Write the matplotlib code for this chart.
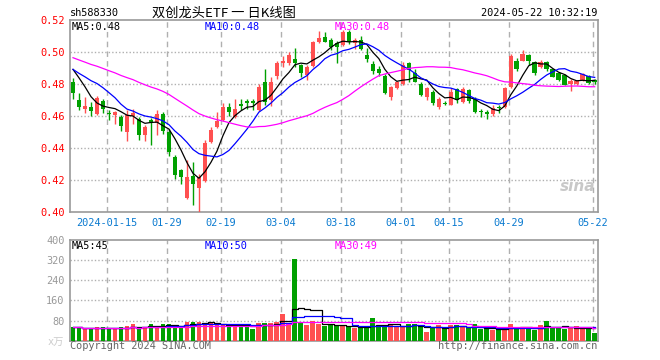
import numpy as np
import pandas as pd
import matplotlib
matplotlib.use("Agg")
import matplotlib.pyplot as plt

plt.rcParams['font.family'] = ['DejaVu Sans Mono', 'Noto Sans CJK SC']

# closes before the window, only used to warm up the moving averages
warmup_close = [0.508, 0.507, 0.506, 0.505, 0.506, 0.504, 0.503, 0.502, 0.501, 0.500,
                0.499, 0.498, 0.499, 0.497, 0.496, 0.495, 0.496, 0.494, 0.493, 0.492,
                0.490, 0.488, 0.487, 0.489, 0.491, 0.492, 0.494, 0.494, 0.491]

opens = [0.4810, 0.4697, 0.4643, 0.4652, 0.4610, 0.4691, 0.4616, 0.4607, 0.4593, 0.4498,
         0.4597, 0.4582, 0.4478, 0.4572, 0.4557, 0.4610, 0.4498, 0.4341, 0.4258, 0.4086,
         0.4220, 0.4145, 0.4190, 0.4436, 0.4530, 0.4575, 0.4655, 0.4595, 0.4675, 0.4693,
         0.4693, 0.4635, 0.4813, 0.4697, 0.4850, 0.4932, 0.4928, 0.4953, 0.4917, 0.4855,
         0.4911, 0.5064, 0.5095, 0.5074, 0.5057, 0.5043, 0.5127, 0.5057, 0.5074, 0.4980,
         0.4924, 0.4894, 0.4850, 0.4718, 0.4771, 0.4802, 0.4930, 0.4870, 0.4800, 0.4720,
         0.4750, 0.4655, 0.4680, 0.4670, 0.4765, 0.4687, 0.4764, 0.4708, 0.4630, 0.4624,
         0.4608, 0.4652, 0.4655, 0.4780, 0.4944, 0.4944, 0.4980, 0.4938, 0.4907, 0.4938,
         0.4890, 0.4870, 0.4855, 0.4800, 0.4800, 0.4823, 0.4848, 0.4823]
highs = [0.4835, 0.4740, 0.4720, 0.4687, 0.4723, 0.4705, 0.4635, 0.4630, 0.4605, 0.4635,
         0.4640, 0.4595, 0.4545, 0.4585, 0.4635, 0.4625, 0.4520, 0.4352, 0.4265, 0.4325,
         0.4310, 0.4235, 0.4448, 0.4530, 0.4624, 0.4680, 0.4680, 0.4708, 0.4705, 0.4705,
         0.4705, 0.4802, 0.4890, 0.4840, 0.4945, 0.4974, 0.4997, 0.5022, 0.4925, 0.4915,
         0.5070, 0.5133, 0.5127, 0.5090, 0.5070, 0.5140, 0.5135, 0.5090, 0.5100, 0.5022,
         0.4945, 0.4910, 0.4860, 0.4785, 0.4820, 0.4935, 0.4935, 0.4895, 0.4810, 0.4780,
         0.4760, 0.4720, 0.4695, 0.4771, 0.4775, 0.4780, 0.4770, 0.4715, 0.4640, 0.4635,
         0.4670, 0.4670, 0.4780, 0.4990, 0.4960, 0.5012, 0.4990, 0.4945, 0.4950, 0.4945,
         0.4895, 0.4875, 0.4860, 0.4830, 0.4827, 0.4870, 0.4855, 0.4830]
lows = [0.4708, 0.4635, 0.4618, 0.4597, 0.4603, 0.4618, 0.4575, 0.4549, 0.4505, 0.4442,
        0.4547, 0.4450, 0.4442, 0.4415, 0.4480, 0.4488, 0.4348, 0.4206, 0.4174, 0.4080,
        0.4040, 0.4000, 0.4185, 0.4430, 0.4525, 0.4570, 0.4600, 0.4585, 0.4635, 0.4640,
        0.4635, 0.4630, 0.4665, 0.4660, 0.4830, 0.4907, 0.4920, 0.4907, 0.4844, 0.4823,
        0.4905, 0.5055, 0.5060, 0.5010, 0.4928, 0.5035, 0.5050, 0.5020, 0.5010, 0.4938,
        0.4860, 0.4850, 0.4735, 0.4700, 0.4765, 0.4795, 0.4813, 0.4810, 0.4725, 0.4700,
        0.4665, 0.4640, 0.4665, 0.4665, 0.4680, 0.4680, 0.4680, 0.4620, 0.4593, 0.4578,
        0.4600, 0.4620, 0.4650, 0.4775, 0.4880, 0.4940, 0.4920, 0.4855, 0.4900, 0.4880,
        0.4840, 0.4820, 0.4790, 0.4756, 0.4790, 0.4815, 0.4800, 0.4800]
closes = [0.4743, 0.4655, 0.4660, 0.4630, 0.4712, 0.4645, 0.4612, 0.4624, 0.4534, 0.4603,
          0.4618, 0.4478, 0.4530, 0.4561, 0.4614, 0.4505, 0.4373, 0.4226, 0.4214, 0.4216,
          0.4170, 0.4216, 0.4427, 0.4510, 0.4565, 0.4655, 0.4625, 0.4645, 0.4662, 0.4680,
          0.4677, 0.4780, 0.4688, 0.4813, 0.4928, 0.4944, 0.4980, 0.4932, 0.4865, 0.4903,
          0.5060, 0.5085, 0.5064, 0.5028, 0.5032, 0.5127, 0.5064, 0.5074, 0.5016, 0.4955,
          0.4880, 0.4865, 0.4740, 0.4781, 0.4813, 0.4917, 0.4884, 0.4813, 0.4729, 0.4775,
          0.4677, 0.4704, 0.4675, 0.4746, 0.4697, 0.4765, 0.4690, 0.4624, 0.4626, 0.4614,
          0.4649, 0.4647, 0.4771, 0.4975, 0.4890, 0.4986, 0.4944, 0.4865, 0.4938, 0.4890,
          0.4845, 0.4825, 0.4792, 0.4815, 0.4818, 0.4861, 0.4806, 0.4813]
# volume, in 万
volumes = [53, 53, 50, 48, 53, 53, 45, 48, 53, 58, 65, 48, 55, 68, 53, 66, 68, 58, 53, 74,
           76, 76, 70, 71, 63, 61, 54, 66, 67, 54, 48, 72, 72, 70, 74, 107, 63, 325, 74, 61,
           79, 65, 57, 61, 58, 63, 53, 49, 49, 53, 92, 61, 61, 61, 53, 55, 68, 65, 53, 34,
           53, 61, 54, 63, 61, 54, 49, 65, 45, 45, 41, 45, 53, 65, 49, 53, 50, 41, 61, 80,
           49, 49, 45, 53, 57, 53, 49, 31]

date_idx = [6, 16, 25, 35, 45, 55, 63, 73, 87]
date_labels = ['2024-01-15', '01-29', '02-19', '03-04', '03-18', '04-01', '04-15', '04-29', '05-22']
price_ticks = [0.40, 0.42, 0.44, 0.46, 0.48, 0.50, 0.52]
vol_ticks = [80, 160, 240, 320, 400]

RED = '#ff5050'
GREEN = '#00a000'
GRID = '#b0b0b0'

n = len(closes)
x = np.arange(n)
o = np.array(opens)
c = np.array(closes)
h = np.array(highs)
l = np.array(lows)
up = c >= o
colors = [RED if u else GREEN for u in up]

allc = pd.Series(warmup_close + closes)
ma5 = allc.rolling(5).mean().values[-n:]
ma10 = allc.rolling(10).mean().values[-n:]
ma30 = allc.rolling(30).mean().values[-n:]
vs = pd.Series(volumes)
vma5 = vs.rolling(5, min_periods=1).mean()
vma10 = vs.rolling(10, min_periods=1).mean()
vma30 = vs.rolling(30, min_periods=1).mean()

W, H = 660, 360
fig = plt.figure(figsize=(6.6, 3.6), dpi=100)
ax = fig.add_axes([70 / W, 1 - 211.5 / H, 527.7 / W, 191.5 / H])
axv = fig.add_axes([70 / W, 1 - 340.7 / H, 527.7 / W, 100.7 / H])

# price panel
ax.vlines(x, l, h, colors=colors, lw=1, zorder=3)
body = np.maximum(np.abs(c - o), 0.0005)
ax.bar(x, body, bottom=np.minimum(o, c), width=0.75, color=colors, zorder=4, linewidth=0)
ax.plot(x, ma5, color='black', lw=0.9, zorder=5)
ax.plot(x, ma10, color='#0000ff', lw=0.9, zorder=5)
ax.plot(x, ma30, color='#ff00ff', lw=0.9, zorder=5)
ax.set_xlim(-0.5, n - 0.5)
ax.set_ylim(0.40, 0.52)

grid_x = [i - 0.35 for i in date_idx]
for a in (ax, axv):
    for gx in grid_x:
        a.axvline(gx, color=GRID, lw=1, ls=(0, (4, 3)), zorder=1)
    for s in a.spines.values():
        s.set_color('#999999')
        s.set_linewidth(1.2)
    a.tick_params(length=0)
    a.set_xticks([])

for p in price_ticks[1:-1]:
    ax.axhline(p, color=GRID, lw=1, ls=(0, (1, 1.5)), zorder=1)
ax.set_yticks(price_ticks)
ax.set_yticklabels(['%.2f' % p for p in price_ticks], color='#ff0000', fontsize=7.4)
ax.tick_params(axis='y', pad=4)

for gx, lab in zip(grid_x, date_labels):
    ax.text(gx, -0.06, lab, transform=ax.get_xaxis_transform(), ha='center', va='center',
            color='#0a7ad0', fontsize=7.4)

ax.text(0.004, 0.965, 'MA5:0.48', transform=ax.transAxes, fontsize=7.4, color='black', va='center')
ax.text(0.255, 0.965, 'MA10:0.48', transform=ax.transAxes, fontsize=7.4, color='#0000ff', va='center')
ax.text(0.502, 0.965, 'MA30:0.48', transform=ax.transAxes, fontsize=7.4, color='#ff00ff', va='center')
ax.text(0.995, 0.13, 'sina', transform=ax.transAxes, fontsize=11, color='#c8c8c8',
        ha='right', va='center', style='italic', fontweight='bold', family='DejaVu Sans', zorder=2)

# volume panel
axv.bar(x, volumes, width=0.8, color=colors, linewidth=0, zorder=3)
axv.plot(x, vma5, color='black', lw=0.9, drawstyle='steps-mid', zorder=4)
axv.plot(x, vma10, color='#0000ff', lw=0.9, drawstyle='steps-mid', zorder=4)
axv.plot(x, vma30, color='#ff00ff', lw=0.9, drawstyle='steps-mid', zorder=4)
axv.set_xlim(-0.5, n - 0.5)
axv.set_ylim(0, 400)
for v in vol_ticks[:-1]:
    axv.axhline(v, color=GRID, lw=1, ls=(0, (1, 1.5)), zorder=1)
axv.set_yticks([0] + vol_ticks)
axv.set_yticklabels(['x万'] + [str(v) for v in vol_ticks], color='#999999', fontsize=7.4)
axv.get_yticklabels()[0].set_color('#cccccc')
axv.tick_params(axis='y', pad=4)
axv.text(0.004, 0.94, 'MA5:45', transform=axv.transAxes, fontsize=7.4, color='black', va='center')
axv.text(0.255, 0.94, 'MA10:50', transform=axv.transAxes, fontsize=7.4, color='#0000ff', va='center')
axv.text(0.502, 0.94, 'MA30:49', transform=axv.transAxes, fontsize=7.4, color='#ff00ff', va='center')

# header / footer
fig.text(70 / W, 1 - 13 / H, 'sh588330', fontsize=7.4, va='center', ha='left')
fig.text(224 / W, 1 - 13 / H, '双创龙头ETF 一 日K线图', fontsize=9.5, va='center', ha='center',
         family=['Noto Sans CJK SC', 'DejaVu Sans'])
fig.text(597 / W, 1 - 13 / H, '2024-05-22 10:32:19', fontsize=7.4, va='center', ha='right')
fig.text(70 / W, 1 - 346 / H, 'Copyright 2024 SINA.COM', fontsize=7.4, color='#666666', va='center')
fig.text(597 / W, 1 - 346 / H, 'http://finance.sina.com.cn', fontsize=7.4, color='#666666',
         va='center', ha='right')

fig.savefig('out.png', dpi=100, facecolor='white')
